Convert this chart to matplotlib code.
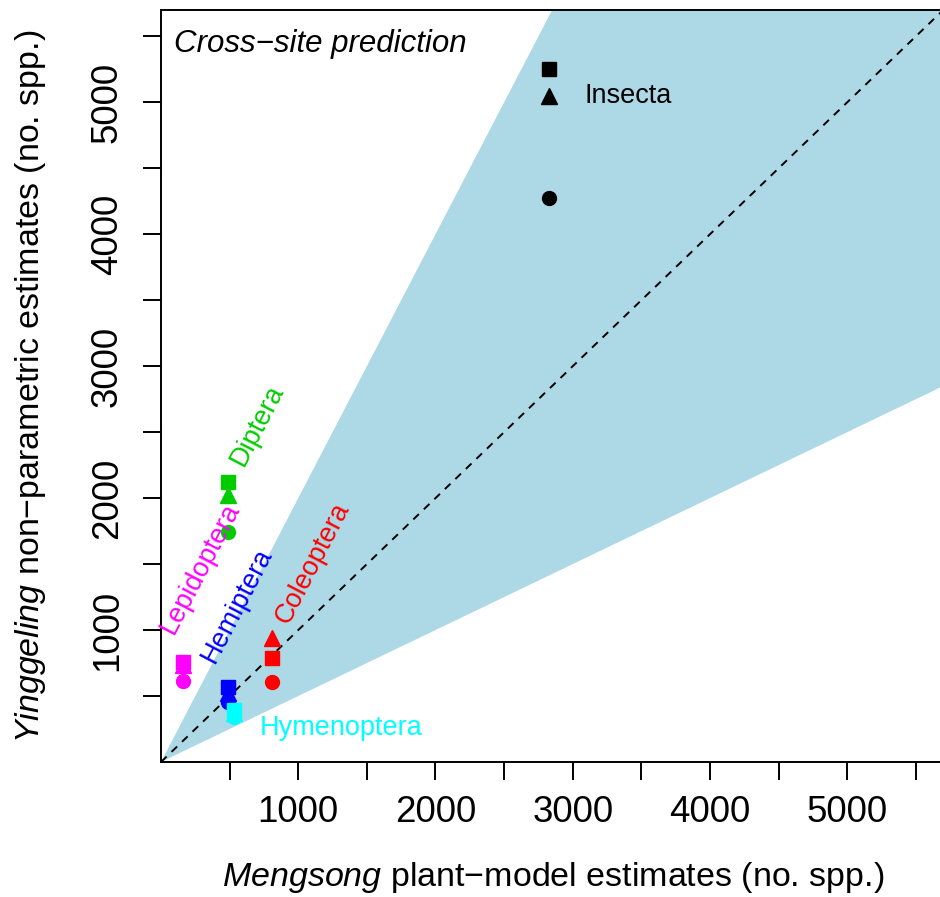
import numpy as np
import matplotlib
matplotlib.use('Agg')
import matplotlib.pyplot as plt

plt.rcParams['font.family'] = ['Liberation Sans', 'DejaVu Sans']
plt.rcParams['mathtext.fontset'] = 'custom'
plt.rcParams['mathtext.rm'] = 'Liberation Sans'
plt.rcParams['mathtext.it'] = 'Liberation Sans:italic'

# taxa, plant-model estimate (x) and three non-parametric estimates (y)
taxa = ['Insecta', 'Coleoptera', 'Diptera', 'Lepidoptera', 'Hemiptera', 'Hymenoptera']
colors = ['black', '#FF0000', '#00CD00', '#FF00FF', '#0000FF', '#00FFFF']
plant_est = [2827, 807, 490, 162, 486, 532]
est_circle = [4274, 609, 1741, 614, 457, 339]
est_triangle = [5049, 938, 2024, 735, 523, 370]
est_square = [5254, 786, 2125, 760, 571, 394]

# label anchor positions (data units), rotation and alignment
label_x = [3089, 1108, 700, 285, 554, 721]
label_y = [5049, 1509, 2555, 1470, 1190, 258]
label_rot = [0, 62.5, 62.5, 62.5, 62.5, 0]
label_ha = ['left', 'center', 'center', 'center', 'center', 'left']

xmax, ymax = 5720, 5700
ticks = np.arange(500, 6000, 500)

fig = plt.figure(figsize=(9.4, 8.97), dpi=100)
ax = fig.add_axes([161/940, 135/897, 785/940, 752/897])

# prediction cone between y = x/2 and y = 2x, plus 1:1 line
xx = np.array([0, xmax])
ax.fill_between(xx, 0.5*xx, 2*xx, color='#ADD8E6', lw=0, zorder=1)
ax.plot(xx, xx, color='black', lw=1.4, linestyle=(0, (4, 3.5)), zorder=2)

for i, t in enumerate(taxa):
    c = colors[i]
    ax.plot(plant_est[i], est_circle[i], 'o', color=c, ms=10, zorder=3)
    ax.plot(plant_est[i], est_triangle[i], '^', color=c, ms=12, zorder=3)
    ax.plot(plant_est[i], est_square[i], 's', color=c, ms=10, zorder=3)
    ax.text(label_x[i], label_y[i], t, color=c, fontsize=19.5, rotation=label_rot[i],
            rotation_mode='anchor', ha=label_ha[i], va='center', zorder=4)

ax.text(0.016, 0.955, 'Cross\u2212site prediction', transform=ax.transAxes,
        fontsize=22.5, style='italic', ha='left', va='center')

ax.set_xlim(0, xmax)
ax.set_ylim(0, ymax)
ax.set_xticks(ticks)
ax.set_yticks(ticks)
ax.set_xticklabels([str(v) if v % 1000 == 0 else '' for v in ticks])
ax.set_yticklabels([str(v) if v % 1000 == 0 else '' for v in ticks], rotation=90, va='center')
ax.tick_params(axis='both', length=13, width=1.4, labelsize=26.5, direction='out')
ax.tick_params(axis='x', pad=11)
ax.tick_params(axis='y', pad=13)
for s in ax.spines.values():
    s.set_linewidth(1.4)

ax.set_xlabel(r'$\it{Mengsong}$ plant' + '\u2212' + 'model estimates (no. spp.)', fontsize=24.5, labelpad=21)
ax.set_ylabel(r'$\it{Yinggeling}$ non' + '\u2212' + 'parametric estimates (no. spp.)', fontsize=24.5, labelpad=30)

fig.savefig('out.png', dpi=100)
